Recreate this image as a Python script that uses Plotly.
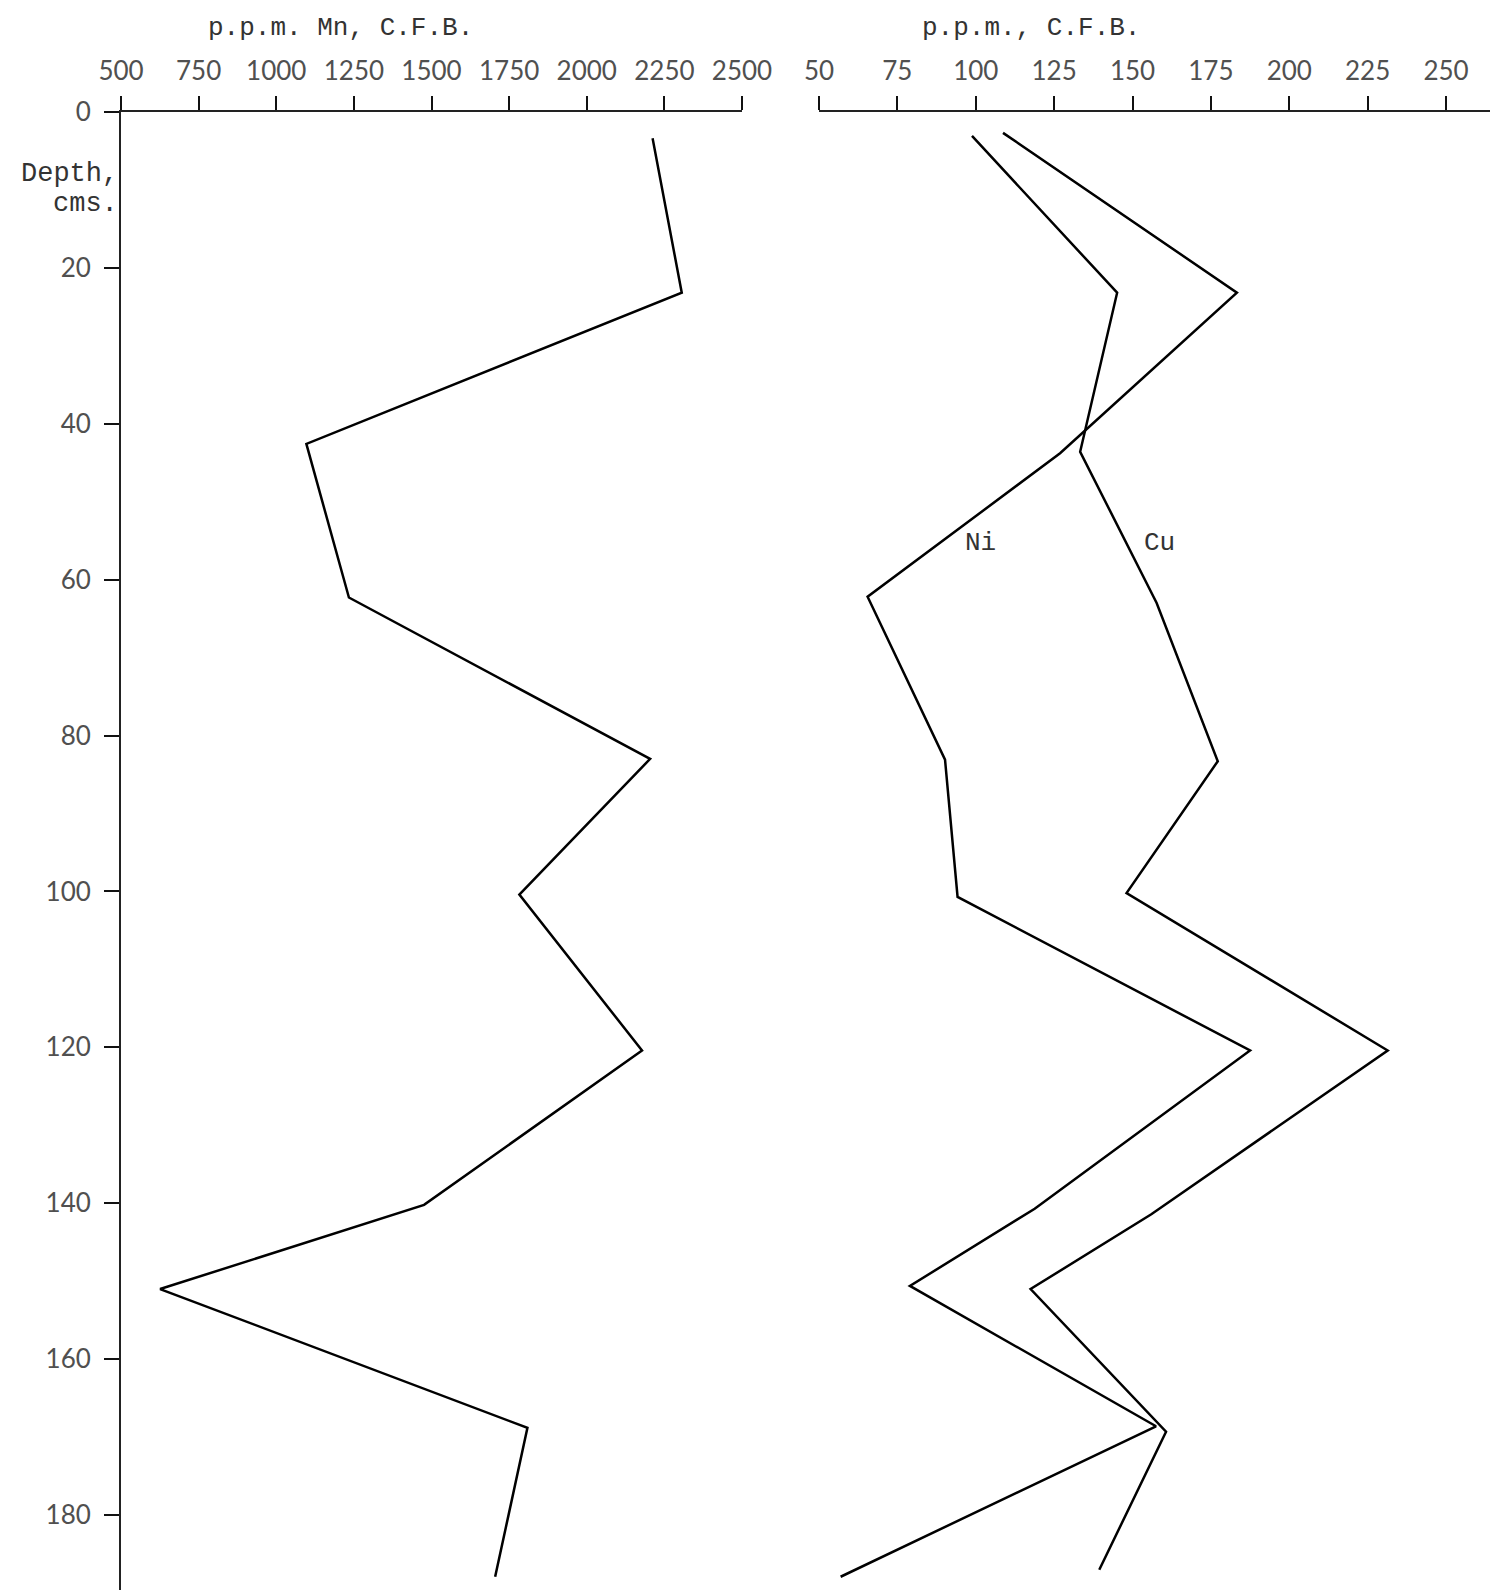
import plotly.graph_objects as go

# ---------------- data ----------------
mn_depth = [3.4, 23.2, 42.6, 62.3, 83.0, 100.4, 120.4, 140.2, 151.0, 168.8, 187.9]
mn_ppm = [2212, 2306, 1097, 1234, 2204, 1783, 2178, 1476, 626, 1809, 1705]

ni_depth = [2.7, 23.2, 43.8, 62.2, 83.1, 100.7, 120.4, 140.7, 150.6, 168.6, 187.9]
ni_ppm = [108.7, 183.3, 126.9, 65.5, 90.2, 94.2, 187.5, 118.8, 79.0, 157.5, 56.9]

cu_depth = [3.1, 23.2, 43.6, 63.0, 83.3, 100.2, 120.4, 141.4, 151.0, 169.3, 187.0]
cu_ppm = [98.8, 145.1, 133.3, 157.7, 177.2, 148.1, 231.4, 156.0, 117.5, 160.7, 139.4]

mn_ticks = [500, 750, 1000, 1250, 1500, 1750, 2000, 2250, 2500]
trace_ticks = [50, 75, 100, 125, 150, 175, 200, 225, 250]
depth_ticks = [0, 20, 40, 60, 80, 100, 120, 140, 160, 180]

mn_title = "p.p.m. Mn, C.F.B."
trace_title = "p.p.m., C.F.B."
depth_title = ["Depth,", "cms."]

# ---------------- layout constants ----------------
W, H = 1490, 1590
TOP_PX = 111.8
Y_TOP = 1 - TOP_PX / H

def px(x):
    return x / W

def py(y):
    return 1 - y / H

TICK_FONT = dict(family="Lato", size=26, color="#505050")
TYPE_FONT = dict(family="Liberation Mono", size=26, color="#333333")
LINE = dict(color="black", width=2.5)

fig = go.Figure()
fig.add_trace(go.Scatter(x=mn_ppm, y=mn_depth, mode="lines", line=LINE,
                         xaxis="x", yaxis="y", name="Mn", showlegend=False))
fig.add_trace(go.Scatter(x=ni_ppm, y=ni_depth, mode="lines", line=LINE,
                         xaxis="x2", yaxis="y", name="Ni", showlegend=False))
fig.add_trace(go.Scatter(x=cu_ppm, y=cu_depth, mode="lines", line=LINE,
                         xaxis="x2", yaxis="y", name="Cu", showlegend=False))

common_x = dict(side="top", anchor="y", showline=True, linecolor="#222",
                linewidth=1.5, ticks="outside", ticklen=14, tickwidth=2,
                tickcolor="#111", tickfont=TICK_FONT, showgrid=False,
                zeroline=False, automargin=False, fixedrange=True,
                ticklabelstandoff=6)

fig.update_layout(
    width=W, height=H, template="none",
    margin=dict(l=0, r=0, t=0, b=0),
    paper_bgcolor="white", plot_bgcolor="white",
    showlegend=False,
    xaxis=dict(domain=[px(121), px(742)], range=[500, 2500],
               tickvals=mn_ticks, ticktext=[str(t) for t in mn_ticks],
               **common_x),
    xaxis2=dict(domain=[px(819), 1.0], range=[50, 50 + (W - 819) / 3.135],
                tickvals=trace_ticks, ticktext=[str(t) for t in trace_ticks],
                **common_x),
    yaxis=dict(domain=[0, Y_TOP], range=[189.6, 0], anchor="x",
               showline=True, linecolor="#222", linewidth=2,
               ticks="outside", ticklen=15, tickwidth=2, tickcolor="#111",
               tickvals=depth_ticks, ticktext=[str(t) for t in depth_ticks],
               tickfont=TICK_FONT, showgrid=False, zeroline=False,
               automargin=False, fixedrange=True, ticklabelstandoff=8),
)

annotations = [
    dict(text=depth_title[0], x=px(120), y=py(174), xanchor="right",
         yanchor="middle", font=dict(TYPE_FONT, size=27)),
    dict(text=depth_title[1], x=px(120), y=py(204), xanchor="right",
         yanchor="middle", font=dict(TYPE_FONT, size=27)),
    dict(text=mn_title, x=px(340), y=py(28), xanchor="center",
         yanchor="middle", font=TYPE_FONT),
    dict(text=trace_title, x=px(1031), y=py(28), xanchor="center",
         yanchor="middle", font=TYPE_FONT),
    dict(text="Ni", x=px(980), y=py(543), xanchor="center", yanchor="middle",
         font=TYPE_FONT),
    dict(text="Cu", x=px(1159), y=py(543), xanchor="center", yanchor="middle",
         font=TYPE_FONT),
]
for a in annotations:
    a.update(xref="paper", yref="paper", showarrow=False)
fig.update_layout(annotations=annotations)

fig.write_html("out.html")
